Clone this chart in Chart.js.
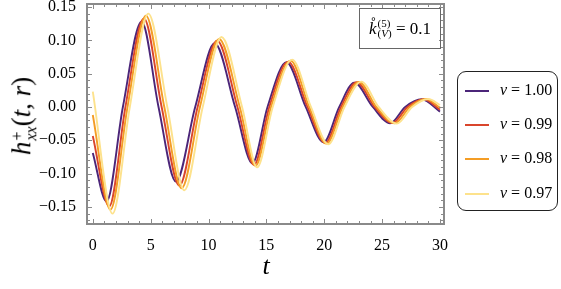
<!DOCTYPE html>
<html>
<head>
<meta charset="utf-8">
<script src="https://cdn.jsdelivr.net/npm/chart.js@4.4.1/dist/chart.umd.min.js"></script>
<style>
  body { margin: 0; background: #fff; }
  #wrap { position: relative; width: 561px; height: 289px; font-family: "Liberation Serif", "DejaVu Serif", serif; }
  canvas { position: absolute; left: 0; top: 0; }
  .ytitle { position: absolute; left: 22px; top: 116px; transform: translate(-50%, -50%) rotate(-90deg); font-size: 27px; white-space: nowrap; }
  .ss { display: inline-block; vertical-align: middle; line-height: 0.85; font-size: 16px; text-align: left; margin-left: 1px; }
  .ss span { display: block; }
  .xtitle { position: absolute; left: 266px; top: 251px; transform: translateX(-50%); font-size: 26px; font-style: italic; }
  .note { position: absolute; left: 359px; top: 8px; width: 82px; height: 41px; border: 1.5px solid #666; box-sizing: border-box; font-size: 17px; display: flex; align-items: center; justify-content: center; white-space: nowrap; }
  .note .ss { font-size: 11px; }
  .legend { position: absolute; left: 457px; top: 71px; width: 101px; height: 140px; border: 1px solid #222; border-radius: 9px; box-sizing: border-box; }
  .legend .row { position: absolute; left: 0; width: 100%; height: 20px; }
  .legend .sw { position: absolute; left: 7px; top: 9px; width: 24px; height: 2px; }
  .legend .lab { position: absolute; left: 42px; top: 0; font-size: 16px; white-space: nowrap; }
</style>
</head>
<body>
<div id="wrap">
  <canvas id="myChart" width="561" height="289"></canvas>
  <div class="ytitle"><i>h</i><span class="ss"><span>+</span><span><i>xx</i></span></span>(<i>t</i>, <i>r</i>)</div>
  <div class="xtitle">t</div>
  <div class="note"><i>k̊</i><span class="ss"><span>(5)</span><span>(<i>V</i>)</span></span>&nbsp;= 0.1</div>
  <div class="legend" id="legend"></div>
</div>
<script>
// velocities and colours of the four curves
const labels = ['1.00', '0.99', '0.98', '0.97'];
const colors = ['#4b2579', '#d9452c', '#f49d25', '#fde28c'];

// extrema and zero crossings (t, h)
const t100 = [0, 1.19, 2.6, 4.22, 5.68, 7.19, 8.85, 10.54, 12.3, 13.8, 15.1, 16.74, 18.4, 19.95, 21.3, 22.6, 24.2, 25.7, 27.0, 28.43, 30];
const h100 = [-0.069, -0.142, 0, 0.128, 0, -0.112, 0, 0.0955, 0, -0.0845, 0, 0.067, 0, -0.053, 0, 0.0365, 0, -0.0245, 0, 0.0115, -0.007];

const t099 = [0, 1.42, 2.82, 4.42, 5.95, 7.48, 9.06, 10.74, 12.5, 13.94, 15.25, 16.88, 18.55, 20.1, 21.45, 22.8, 24.35, 25.9, 27.2, 28.6, 30];
const h099 = [-0.0435, -0.149, 0, 0.133, 0, -0.118, 0, 0.0995, 0, -0.087, 0, 0.068, 0, -0.054, 0, 0.037, 0, -0.024, 0, 0.0115, -0.004];

const t098 = [0, 1.53, 3.0, 4.59, 6.18, 7.68, 9.26, 10.91, 12.7, 14.06, 15.4, 17.09, 18.7, 20.2, 21.6, 23.0, 24.5, 26.1, 27.4, 28.8, 30];
const h098 = [-0.012, -0.154, 0, 0.137, 0, -0.122, 0, 0.102, 0, -0.0885, 0, 0.0695, 0, -0.055, 0, 0.0375, 0, -0.0245, 0, 0.012, -0.001];

const t097 = [0, 1.71, 3.2, 4.8, 6.44, 7.91, 9.5, 11.12, 12.9, 14.2, 15.55, 17.23, 18.85, 20.35, 21.75, 23.2, 24.7, 26.27, 27.6, 29.0, 30];
const h097 = [0.023, -0.160, 0, 0.140, 0, -0.125, 0, 0.105, 0, -0.0905, 0, 0.071, 0, -0.056, 0, 0.038, 0, -0.025, 0, 0.012, 0.003];

const xTicks = [0, 5, 10, 15, 20, 25, 30];
const yTicks = [-0.15, -0.10, -0.05, 0.00, 0.05, 0.10, 0.15];

const series = [[t100, h100], [t099, h099], [t098, h098], [t097, h097]];

const toPoints = (ts, hs) => ts.map((t, i) => ({ x: t, y: hs[i] }));

// Mathematica-style frame with inward ticks on every side
const frameTicks = {
    id: 'frameTicks',
    afterDatasetsDraw(chart) {
        const { ctx, chartArea: a, scales: { x, y } } = chart;
        ctx.save();
        ctx.strokeStyle = '#8a8a8a';
        ctx.lineWidth = 1;
        ctx.beginPath();
        for (let v = 0; v <= 30; v += 1) {
            const px = Math.round(x.getPixelForValue(v)) + 0.5;
            const len = v % 5 === 0 ? 5 : 3;
            ctx.moveTo(px, a.bottom); ctx.lineTo(px, a.bottom - len);
            ctx.moveTo(px, a.top); ctx.lineTo(px, a.top + len);
        }
        for (let k = -17; k <= 15; k++) {
            const py = Math.round(y.getPixelForValue(k / 100)) + 0.5;
            const len = k % 5 === 0 ? 5 : 3;
            ctx.moveTo(a.left, py); ctx.lineTo(a.left + len, py);
            ctx.moveTo(a.right, py); ctx.lineTo(a.right - len, py);
        }
        ctx.stroke();
        ctx.lineWidth = 2;
        ctx.strokeRect(a.left, a.top, a.right - a.left, a.bottom - a.top);
        ctx.restore();
    }
};

const chart = new Chart(document.getElementById('myChart'), {
    type: 'line',
    data: {
        datasets: series.map((s, i) => ({
            label: 'v = ' + labels[i],
            data: toPoints(s[0], s[1]),
            borderColor: colors[i],
            borderWidth: 1.9,
            pointRadius: 0,
            cubicInterpolationMode: 'monotone',
            fill: false
        })).reverse()
    },
    options: {
        responsive: false,
        animation: false,
        layout: { padding: { top: 4, right: 117, left: 0, bottom: 0 } },
        plugins: { legend: { display: false }, tooltip: { enabled: false } },
        scales: {
            x: {
                type: 'linear',
                min: -0.5,
                max: 30.35,
                grid: { display: false },
                border: { display: false },
                afterBuildTicks: (s) => { s.ticks = xTicks.map(v => ({ value: v })); },
                afterFit: (s) => { s.height = 65; s.paddingLeft = 0; s.paddingRight = 0; },
                ticks: {
                    color: '#000',
                    padding: 4,
                    maxRotation: 0,
                    font: { family: 'Liberation Serif', size: 16 },
                    callback: (v) => String(v)
                }
            },
            y: {
                type: 'linear',
                min: -0.1756,
                max: 0.1545,
                grid: { display: false },
                border: { display: false },
                afterBuildTicks: (s) => { s.ticks = yTicks.map(v => ({ value: v })); },
                afterFit: (s) => { s.width = 87; s.paddingTop = 0; s.paddingBottom = 0; },
                ticks: {
                    color: '#000',
                    padding: 3,
                    font: { family: 'Liberation Serif', size: 16 },
                    callback: (v) => (v < 0 ? '\u2212' : '') + Math.abs(v).toFixed(2)
                }
            }
        }
    },
    plugins: [frameTicks]
});

// legend box built from the same labels/colours
const legend = document.getElementById('legend');
const rowTops = [9, 43, 77, 112];
labels.forEach((lab, i) => {
    const row = document.createElement('div');
    row.className = 'row';
    row.style.top = rowTops[i] + 'px';
    row.innerHTML = '<div class="sw" style="background:' + colors[i] + '"></div>' +
        '<div class="lab"><i>v</i> = ' + lab + '</div>';
    legend.appendChild(row);
});
</script>
</body>
</html>
